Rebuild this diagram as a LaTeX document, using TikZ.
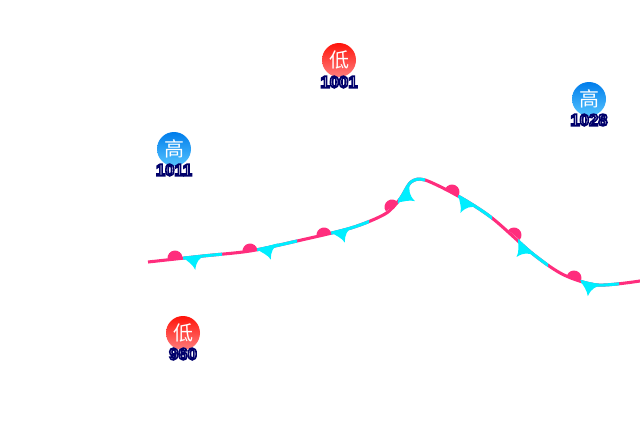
\documentclass[tikz,border=0pt]{standalone}
\usepackage{fontspec}
\newfontfamily\cjkfont{Noto Sans CJK SC}
\newfontfamily\numfont{Liberation Sans}
\definecolor{frontpink}{RGB}{255,45,125}
\definecolor{frontcyan}{RGB}{0,238,255}
\definecolor{lowtop}{RGB}{255,20,10}
\definecolor{lowbottom}{RGB}{255,125,125}
\definecolor{hightop}{RGB}{0,125,235}
\definecolor{highbottom}{RGB}{85,195,255}
\tikzset{
  warm/.style={draw=frontpink, line width=2.3pt, line join=round},
  cold/.style={draw=frontcyan, line width=2.3pt, line join=round},
  center-low/.style={circle, minimum size=25.5pt, inner sep=0pt, top color=lowtop, bottom color=lowbottom, text=white, font=\cjkfont\fontsize{15}{15}\selectfont},
  center-high/.style={circle, minimum size=25.5pt, inner sep=0pt, top color=hightop, bottom color=highbottom, text=white, font=\cjkfont\fontsize{15}{15}\selectfont},
  pressure/.style={inner sep=0pt, font=\numfont\bfseries\fontsize{12.5}{13}\selectfont}
}
% stroked navy digits with a white core
\newcommand{\halotext}[1]{\special{pdf:code q 2 Tr 1.2 w 0 0 .42 RG 1 1 1 rg}#1\special{pdf:code Q}}
\newcommand{\frontpath}{plot[smooth] coordinates {(148,262) (203,256) (250,251) (297,241) (351,228) (385,214) (400,199) (411,182) (425,180) (458,196) (492,218) (533,254) (564,275) (598,285) (640,281)}}
\begin{document}
\begin{tikzpicture}[x=0.75pt,y=-0.75pt]
  \useasboundingbox (0,0) rectangle (640,440);

  % --- Front line, warm under cold pieces ---
  \draw[warm] \frontpath;
  \foreach \xa/\xb in {183/222, 257/297, 331/369, 398/425, 458/492, 518/548, 581/619} {
    \begin{scope}
      \clip (\xa,0) rectangle (\xb,440);
      \draw[cold] \frontpath;
    \end{scope}
  }

  % --- Warm bumps: x / y / rotation ---
  \foreach \x/\y/\a in {175/258/6, 250/251/7, 324/235/12, 392/207/35, 452/192/-27, 514/235/-40, 574/278/-20} {
    \begin{scope}[shift={(\x,\y)},rotate=\a]
      \fill[frontpink] (-7.5,0) arc[start angle=180,end angle=360,radius=7.5] -- cycle;
    \end{scope}
  }

  % --- Cold barbs: x / y / rotation ---
  \foreach \x/\y/\a in {183/258/6, 257/250/15, 331/233/15, 398/203/56, 458/196/-32, 518/240/-45, 580/281/-13} {
    \begin{scope}[shift={(\x,\y)},rotate=\a]
      \fill[frontcyan] (0,-1) -- (22,-1) .. controls (16,3) and (13,4) .. (11,13)
        .. controls (9,7) and (4,4) .. (0,-1) -- cycle;
    \end{scope}
  }

  % --- Pressure centres ---
  \node[center-low] (low-a) at (339,60) {低};
  \node[pressure] (value-a) at (339,82) {\halotext{1001}};
  \node[center-high] (high-a) at (589,99) {高};
  \node[pressure] (value-b) at (589,120) {\halotext{1028}};
  \node[center-high] (high-b) at (174,149) {高};
  \node[pressure] (value-c) at (174,170) {\halotext{1011}};
  \node[center-low] (low-b) at (183,333) {低};
  \node[pressure] (value-d) at (183,354) {\halotext{960}};
\end{tikzpicture}
\end{document}
